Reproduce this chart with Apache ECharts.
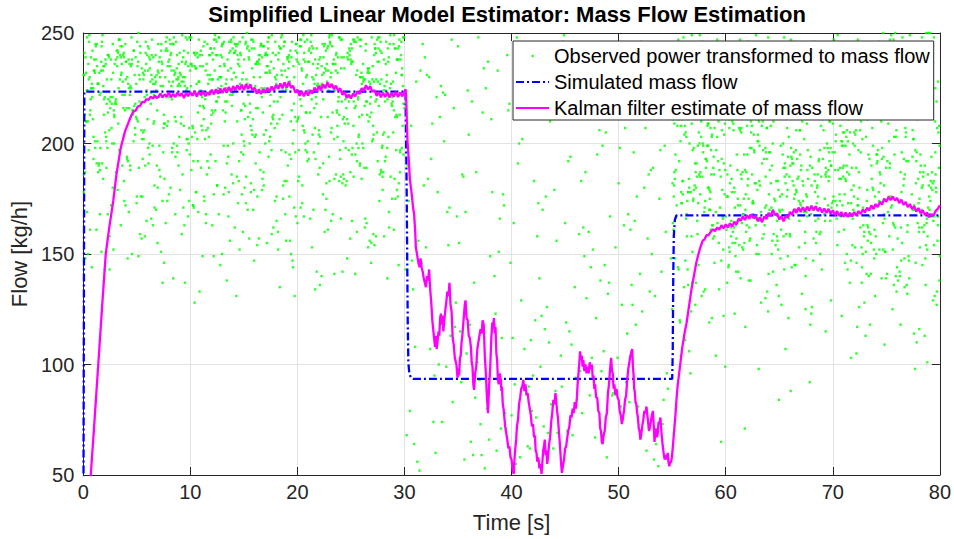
<!DOCTYPE html>
<html><head><meta charset="utf-8">
<script src="https://cdn.jsdelivr.net/npm/echarts@6/dist/echarts.min.js"></script>
<style>html,body{margin:0;padding:0;background:#fff}#c{width:954px;height:539px}</style>
</head><body><div id="c"></div>
<script>
const chartTitle = 'Simplified Linear Model Estimator: Mass Flow Estimation';
const xAxisName = 'Time [s]';
const yAxisName = 'Flow [kg/h]';
const seriesNames = ['Observed power transformed to mass flow', 'Simulated mass flow', 'Kalman filter estimate of mass flow'];
const xRange = [0, 80, 10];
const yRange = [50, 250, 50];

// Observed samples (visible ones). Each block: start time, sampling step [s],
// and the stride with which the typed values are interleaved into the sample slots.
const obs1Start = 0.03, obs1Step = 0.03, obs1Stride = 387;
const obs1 = [
231,207,244,218,196,238,225,249,212,183,236,221,242,203,229,247,190,233,215,241,226,174,239,208,246,
220,235,199,243,227,211,248,186,232,217,240,204,237,224,152,245,213,230,195,242,219,234,206,248,228,
178,239,216,244,201,232,223,249,191,236,210,241,226,168,245,214,237,198,230,243,221,185,247,209,234,
225,240,193,229,246,217,205,238,222,250,146,233,212,244,227,157,239,219,231,202,248,215,236,188,242,
224,207,245,230,196,238,220,249,213,176,235,227,241,200,232,246,218,139,237,223,210,243,229,165,240,
216,233,248,204,227,239,192,221,245,212,236,183,230,247,219,206,241,225,172,234,244,211,228,198,238,
222,246,209,231,240,187,217,243,226,203,237,249,214,158,232,220,245,196,229,238,208,241,224,162,235,
218,247,201,233,226,242,190,215,239,228,207,244,221,175,236,230,248,212,197,240,223,233,185,246,210,
229,241,219,204,237,248,193,225,232,213,245,131,227,239,216,200,234,243,222,170,238,211,247,226,205,
240,217,231,188,244,224,209,236,250,214,198,233,227,242,177,219,238,206,245,230,220,191,241,212,235,
226,148,243,229,203,238,218,247,195,232,224,210,240,184,235,221,246,207,229,242,215,166,237,200,244,
223,234,211,249,197,228,239,216,182,243,230,208,236,222,247,155,231,213,240,226,173,245,219,235,204,
238,227,189,242,215,232,248,201,224,237,212,169,245,229,218,240,196,234,221,246,208,231,243,186,227,
214,239,230,205,247,220,236,192,228,243,210,233,225,142,241,217,249,202,235,222,238,159,229,244,213,
233,198,240,226,218,245,207,231,238,187,224,246,215,236,200,242,228,211,181,239,221,248,205,234,226,
241,212,229,194,244,233,219,237,171,225,248,206,230,242,216,199,236,223,245,210,232,184,240,227,219,
247,202,235,221,240,189,228,243,214,231,197,246,225,238,209,160,234,220,249,213,237,229,163,242,218,
230,244,207,226,239,215,248,193,232,222,241,204,236,185,227,245,211,233,219,240,199,231,246,174,224,
236,216,242,228,201,238,224,247,137,230,213,243,221,234,206,249,192,227,239,217,232,245,210,168,236,
221,240,229,197,244,212,235,226,248,186,231,219,241,203,237,225,246,214,232,176,240,222,208,243,229,
238,210,233,245,191,224,241,218,230,247,206,236,222,179,243,228,214,239,200,248,226,233,150,241,215,
229,244,203,236,221,247,195,232,240,212,227,245,183,234,219,238,208,242,225,170,237,231,246,214,222,
200,239,227,248,213,233,189,244,220,236,207,241,229,164,247,218,235,226,198,243,211,238,224,245,192,
234,220,241,206,229,246,217,237,181,232,243,224,210,239,228,248,196,235,215,242,221,144,238,230,209,
244,225,213,240,232,194,247,219,236,227,203,242,216,233,249,187,229,238,211,245,224,200,236,220,241,
217,235,246,198,230,239,222,209,243,228,177,237,214,245,226,233,205,241,219,190,248,231,223,236,212,
240,226,202,244,218,235,229,248,193,238,221,211,246,232,184,239,227,215,242,204,234,247,220,167,237,
228,243,216,231,249,207,236,224,197,241,213,238,230,246,156,225,240,219,233,201,245,227,212,239,222,
235,210,247,226,238,195,230,244,218,236,205,242,223,179,248,214,232,240,227,209,237,221,246,185,231,
243,219,234,203,240,227,248,212,236,191,229,245,222,238,208,233,246,215,176,241,226,237,200,244,230,
213,239,225,247,197,232,240,218,235,206,244,229,221,248,183,237,214,242,227,209,231,246,194,238,224,
246,208,237,229,242,190,226,239,215,233,248,202,240,222,171,236,231,245,212,228,241,198,235,219,247,
227,238,211,244,225,236,186,230,247,216,241,204,233,224,249,149,239,218,232,245,207,226,240,180,234,
220,245,232,199,238,223,246,213,235,228,190,243,217,237,230,206,248,221,242,168,236,229,214,244,225,
239,203,231,247,218,234,241,196,227,245,211,238,224,182,240,233,216,246,228,209,237,220,243,192,230,
246,224,215,240,231,187,243,226,238,209,248,219,235,230,201,244,222,239,213,176,242,234,227,247,205,
232,241,198,229,246,221,236,210,243,225,237,184,231,248,216,239,204,245,228,235,161,240,223,233,212,
238,217,244,230,206,241,227,249,189,234,222,245,213,239,231,202,246,225,236,174,243,218,240,229,210,
226,245,235,212,240,197,232,247,220,237,208,243,229,181,238,224,246,215,233,241,203,236,227,244,192,
241,230,219,246,225,208,239,233,248,186,236,222,243,214,231,245,200,228,240,217,235,178,247,224,221
];
const obs1bStart = 0.05, obs1bStep = 0.15, obs1bStride = 77;
const obs1b = [
178,192,165,201,154,187,171,196,143,182,160,199,175,148,189,168,204,157,185,137,193,172,162,198,151,
183,169,195,141,176,188,158,202,166,180,131,191,174,156,197,163,186,149,179,194,167,153,200,173,184,
146,190,161,177,203,159,181,139,195,170,187,152,198,164,176,144,192,183,157,200,169,188,134,179,196,
162,174,150,193,181,166,205,155,185,172,142,197,160,189,177,147,201,168,182,158,194,175,128,186,163,
199,153,180,171,191,145,184,165,203,161,178,136,190,173,156,196,167,187,150,181,198,159,175,192,140,
183,170,155,200,164,188,177,148,195,162,179,133,191,172,157,202,168,185,151,180,197,166,174,145,189,
160,193,178,154,199,171,184,138,187,163,176,196,149,182,169,204,158,190,173,143,194,165,181,152,198,
176,161,188,147,192,179,167,201,156,185,170,135,195,164,183,150,191,174,159,200,168,186,141,180,197
];
const obs2Start = 30.1, obs2Step = 0.1, obs2Stride = 97;
const obs2 = [
143,218,87,171,62,236,119,195,74,158,246,101,183,56,129,207,92,164,241,78,137,222,110,189,66,
152,230,95,176,59,213,134,248,81,167,104,199,71,145,226,116,186,53,160,239,90,127,204,68,174,
112,244,83,156,197,61,138,221,99,180,73,149,233,107,168,57,192,125,215,86,154,242,64,178,121,
209,76,141,187,97,228,58,163,115,249,89,172,132,201,69,150,237,103,184,79,118,219,94,147,55,
198,128,243,84,166,106,212,72,157,234,98,181,63,136,224,109,190,77,153,247,88,175,123,206,60,
139,227,93,162,52,217,114,185,70,148,240,102,169,82,131,211,67,193,120,235,85,159,108,200,75,
155,246,96,177,58,223,126,188,80,144,231,111,165,65,135,208,91,182,117,238,73,151,199,100,170,
61,214,130,245,87,161,105,194,68,146,229,113,179,54,140,220,95,173,124,248,78,156,202,92,186,
119,236,71,167,99,210,57,149,232,107,183,81,137,218,64,191,127,244,90,160,112,205,74,176,133,
225,86,153,62,196,118,241,79,164,103,216,69,142,233,97,178,122,207,59,187,146,230,83,169,115
];
const obs3Start = 55.03, obs3Step = 0.03, obs3Stride = 311;
const obs3 = [
182,156,207,171,233,148,195,166,219,177,140,203,188,162,245,174,129,198,213,159,184,226,151,192,170,
208,137,179,196,163,229,185,154,201,172,96,190,238,167,211,145,182,199,158,176,221,134,193,160,205,
173,248,189,152,216,165,197,181,143,224,169,187,204,126,177,195,161,232,183,150,209,171,192,139,214,
164,200,180,241,155,186,218,172,133,196,160,227,190,147,206,176,165,185,113,199,231,157,182,210,168,
191,144,222,175,203,161,187,250,150,197,178,88,212,166,193,181,236,153,174,207,141,188,220,162,198,
179,213,158,194,169,230,146,184,201,119,176,217,163,189,243,155,205,172,136,195,180,225,149,186,167,
211,142,199,174,160,234,188,154,207,170,193,131,219,178,162,247,183,196,151,173,215,138,190,165,226,
157,202,181,145,195,176,238,164,210,187,124,198,171,152,223,185,166,204,143,179,192,232,159,175,208,
189,135,216,168,197,155,182,244,173,201,148,186,163,228,194,71,177,212,158,191,170,236,147,205,184,
161,218,179,193,140,207,175,249,156,188,167,211,132,196,180,224,154,172,203,145,185,239,162,198,174,
210,150,191,177,229,137,200,166,183,215,158,194,176,122,206,187,163,242,178,149,219,171,197,153,186,
168,204,143,181,226,160,192,175,213,104,199,182,157,233,170,188,146,208,165,195,179,221,139,184,201,
176,159,235,189,148,203,172,217,163,196,118,185,210,155,178,246,167,193,141,205,174,227,158,190,183,
197,171,127,214,162,186,240,152,199,180,209,144,175,191,231,160,182,206,136,194,169,222,150,187,173,
154,208,185,166,245,173,196,138,211,178,161,224,189,147,202,170,184,237,156,192,175,92,216,164,199,
181,230,152,193,177,205,142,188,167,219,159,200,183,248,171,196,131,207,174,186,153,226,165,190,180,
212,163,187,145,234,176,198,158,181,214,137,193,172,204,168,243,150,189,178,121,209,185,160,195,174,
166,220,191,151,203,180,239,162,186,173,127,210,194,157,228,177,199,144,183,215,170,190,249,153,201,
187,175,148,218,169,192,232,160,205,182,141,196,174,222,155,188,210,133,179,200,165,236,184,171,194,
159,213,180,197,140,225,172,186,165,206,151,191,244,177,198,163,217,146,184,203,176,65,208,190,168,
200,147,189,238,164,181,211,156,195,173,229,139,186,170,202,160,183,247,152,197,178,118,214,187,172,
184,223,161,192,176,136,207,168,189,240,155,199,181,212,149,174,196,231,163,185,206,142,178,219,167,
193,158,216,179,203,144,188,171,235,162,197,183,125,209,175,190,154,227,180,166,201,147,185,242,173,
170,205,182,151,220,186,164,198,137,211,177,193,158,246,172,187,203,143,179,215,161,194,232,168,189,
148,213,176,199,167,230,154,184,208,171,190,133,218,181,163,201,186,239,156,177,195,140,210,173,187,
222,160,191,178,206,145,183,250,169,196,174,212,152,188,165,227,179,117,200,185,158,193,236,170,204,
181,166,214,139,192,176,224,157,205,183,170,198,146,186,243,163,190,211,84,178,197,168,229,152,185,
195,174,131,208,188,160,233,177,199,150,184,216,169,193,142,204,180,248,162,187,173,221,155,196,179,
163,217,185,170,240,153,196,181,128,210,175,191,164,226,186,148,201,172,234,159,189,206,143,180,197,
176,203,159,189,219,166,184,138,212,177,195,245,161,183,170,208,150,192,231,174,186,123,215,168,199,
188,154,225,180,197,163,206,174,149,190,237,169,202,184,157,214,178,141,195,228,172,187,160,209,182,
171,230,165,193,144,207,185,176,219,153,198,181,247,167,189,136,204,175,222,158,191,179,212,162,196,
205,168,186,238,155,192,173,210,147,183,200,164,226,178,98,195,187,216,170,152,203,181,241,175,190,
167,213,158,199,184,226,172,189
];
const obs3bStart = 55.08, obs3bStep = 0.125, obs3bStride = 77;
const obs3b = [
231,214,246,207,238,221,249,126,212,235,118,243,226,209,240,217,104,233,248,211,229,137,244,220,236,
208,241,131,225,247,213,232,98,219,239,206,245,228,122,215,234,250,210,237,113,223,242,216,230,135,
247,205,238,222,109,244,227,212,236,128,249,218,231,207,241,120,226,233,214,245,101,239,221,210,235,
132,243,224,208,248,216,237,115,229,240,211,246,125,219,232,206,242,107,227,238,213,250,130,222,234,
209,244,117,230,236,215,247,99,225,241,207,233,134,218,245,223,239,111,212,249,228,210,237,124,243,
220,231,206,246,103,235,214,240,226,129,248,217,238,209,243,114,229,234,221,247,136,211,242,225,208,
236,119,245,213,239,230,106,227,250,216,233,127,241,219,207,244,110,232,237,224,246,133,214,240,228,
210,238,121,243,222,235,105,249,217,231,209,245,138,226,236,212,241,116,220,247,229,206,234,123,239
];

// Simulated mass flow [t, value]
const simulated = [
[0,0],[0.1,223.5],[30.1,223.5],[30.2,180],[30.3,120],[30.36,101],[30.45,96],[30.6,94],[30.8,93.5],
[55.0,93.5],[55.05,105],[55.1,140],[55.15,158],[55.25,165.5],[55.4,167.5],[80,167.5]
];

// Kalman filter estimate [t, value]
const kalman = [
[0.5,36],[0.7,50],[1.0,71],[1.4,100],[1.8,129],[2.1,150],[2.4,161],[2.8,174],[3.1,186],[3.5,198],[3.9,205.5],
[4.3,210.5],[4.5,212.8],[4.7,214.6],[4.9,214.9],[5.1,216.8],[5.3,217.0],[5.5,218.8],[5.7,218.6],[5.9,220.1],[6.1,219.7],
[6.3,221.2],[6.5,220.4],[6.7,221.6],[6.85,220.6],
[7.0,221.0],[7.2,222.6],[7.4,220.8],[7.6,222.2],[7.8,221.3],[8.0,223.0],[8.2,220.9],[8.4,222.4],[8.6,221.0],[8.8,223.1],
[9.0,221.5],[9.2,222.7],[9.4,220.6],[9.6,222.9],[9.8,221.4],[10.0,223.2],[10.2,221.6],[10.4,223.8],[10.6,221.2],[10.8,223.4],
[11.0,221.9],[11.2,223.6],[11.4,221.4],[11.6,223.1],[11.8,222.0],[12.0,224.3],[12.2,222.2],[12.4,224.6],[12.6,222.5],[12.8,224.9],
[13.0,222.8],[13.2,225.1],[13.4,223.0],[13.6,225.6],[13.8,223.4],[14.0,226.0],[14.2,224.1],[14.4,226.4],[14.6,224.3],[14.8,226.6],
[15.0,224.2],[15.2,226.9],[15.4,224.6],[15.6,226.8],[15.8,224.0],[16.0,225.3],[16.2,222.6],[16.4,224.5],[16.6,222.4],[16.8,224.6],
[17.0,222.9],[17.2,225.2],[17.4,223.4],[17.6,225.8],[17.8,223.9],[18.0,226.5],[18.2,224.8],[18.4,227.2],[18.6,225.0],[18.8,227.6],
[19.0,225.3],[19.2,228.0],[19.4,225.2],[19.6,226.1],[19.8,223.0],[20.0,224.4],[20.2,221.6],[20.4,223.6],[20.6,221.3],[20.8,223.8],
[21.0,221.7],[21.2,224.0],[21.4,222.6],[21.6,225.3],[21.8,223.4],[22.0,226.1],[22.2,224.0],[22.4,226.8],[22.6,225.0],[22.8,227.6],
[23.0,225.3],[23.2,227.0],[23.4,224.6],[23.6,226.2],[23.8,223.7],[24.0,225.0],[24.2,222.0],[24.4,223.4],[24.6,220.6],[24.8,222.2],
[25.0,220.4],[25.2,222.6],[25.4,221.3],[25.6,223.7],[25.8,222.3],[26.0,225.0],[26.2,223.6],[26.4,226.4],[26.6,224.4],[26.8,226.0],
[27.0,223.4],[27.2,224.2],[27.4,221.5],[27.6,223.3],[27.8,220.9],[28.0,223.0],[28.2,221.0],[28.4,223.2],[28.6,220.8],[28.8,222.9],
[29.0,221.2],[29.2,223.4],[29.4,221.0],[29.6,223.1],[29.8,221.3],[30.0,223.6],[30.1,224.5],
[30.15,222],[30.2,214],[30.25,205],[30.3,199],[30.4,193],[30.5,184],[30.6,180],[30.7,176],[30.8,171],[30.9,168],[31.0,160],
[31.06,153],[31.13,151],[31.2,149],[31.3,146],[31.4,144],[31.5,148],[31.6,144],[31.7,142],[31.8,139],[31.9,137],[32.0,135],
[32.1,140],[32.2,138],[32.3,143],[32.4,134],[32.5,128],[32.6,120],[32.7,115],[32.76,112],[32.85,108],[32.93,113],[33.0,107],
[33.1,111],[33.18,115],[33.25,113],[33.33,121],[33.4,123],[33.48,118],[33.55,122],[33.63,115],[33.7,119],[33.8,124],[33.9,128],
[34.0,133],[34.1,131],[34.2,137],[34.3,127],[34.4,124],[34.5,112],[34.6,109],[34.7,103],[34.85,100],[34.95,94],[35.05,98],
[35.1,95],[35.18,103],[35.25,104],[35.33,110],[35.4,113],[35.48,118],[35.55,122],[35.63,127],[35.7,129],[35.8,121],[35.9,120],
[36.0,113],[36.1,112],[36.2,108],[36.28,101],[36.35,99],[36.43,91],[36.5,88.5],[36.6,96],[36.7,99],[36.8,107],[36.9,110],
[37.0,113],[37.1,116],[37.2,114],[37.3,120],[37.4,118],[37.5,104],[37.6,96],[37.7,85],[37.8,78],[37.9,90],[38.0,98],
[38.1,111],[38.2,119],[38.28,116],[38.35,121],[38.43,114],[38.5,117],[38.58,105],[38.65,102],[38.73,93],[38.8,91],[38.9,96],
[39.0,93],[39.05,88],[39.1,90],[39.18,82],[39.25,80],[39.33,76],[39.4,72],[39.5,69],[39.6,66],[39.7,62],[39.8,63],
[39.9,58],[40.0,57],[40.1,52],[40.2,50.5],[40.28,58],[40.35,62],[40.43,66],[40.5,72],[40.6,75],[40.7,82],[40.8,85],
[40.9,89],[41.0,90],[41.1,93],[41.2,88],[41.3,91],[41.4,86],[41.5,87],[41.6,83],[41.7,80],[41.8,77],[41.9,72],
[42.0,73],[42.1,67],[42.18,68],[42.25,61],[42.33,60],[42.4,56],[42.5,58],[42.6,53],[42.7,55],[42.8,50.5],[42.88,56],
[42.95,61],[43.03,63],[43.1,66],[43.18,59],[43.25,61],[43.33,55],[43.4,58],[43.5,64],[43.6,67],[43.7,74],[43.8,78],
[43.9,84],[44.0,82],[44.1,87],[44.18,83],[44.25,79],[44.33,76],[44.4,71],[44.48,66],[44.55,61],[44.63,55],[44.7,51],
[44.8,54],[44.9,57],[45.0,62],[45.1,63],[45.2,67],[45.3,70],[45.4,72],[45.5,77],[45.6,76],[45.7,80],[45.8,78],
[45.9,83],[46.0,80],[46.1,85],[46.18,92],[46.25,96],[46.33,101],[46.4,106],[46.48,102],[46.55,104],[46.63,99],[46.7,102],
[46.8,97],[46.9,100],[47.0,96],[47.1,99],[47.2,96],[47.3,101],[47.4,98],[47.5,100],[47.58,94],[47.65,95],[47.73,89],
[47.8,91],[47.9,85],[48.0,85],[48.1,79],[48.2,78],[48.28,71],[48.35,70],[48.43,65],[48.5,64],[48.6,68],[48.7,70],
[48.8,76],[48.9,78],[49.0,87],[49.1,91],[49.2,98],[49.3,103],[49.38,97],[49.45,96],[49.53,89],[49.6,91],[49.7,86],
[49.8,89],[49.9,85],[50.0,84],[50.1,79],[50.2,77],[50.3,73],[50.4,76],[50.5,79],[50.6,84],[50.7,86],[50.8,93],
[50.9,98],[51.0,101],[51.1,104],[51.2,106],[51.27,107],[51.33,99],[51.4,95],[51.45,89],[51.5,88],[51.58,83],[51.65,82],
[51.73,78],[51.8,76],[51.88,71],[51.95,70],[52.03,66],[52.1,68],[52.2,72],[52.3,75],[52.4,79],[52.5,78],[52.6,81],
[52.68,77],[52.75,74],[52.83,70],[52.9,71],[53.0,74],[53.1,77],[53.2,79],[53.28,72],[53.35,65],[53.43,70],[53.5,71],
[53.58,67],[53.65,69],[53.73,74],[53.8,73],[53.9,76],[54.0,69],[54.1,64],[54.2,60],[54.3,57],[54.4,59],[54.5,57],
[54.58,60],[54.65,56],[54.73,54],[54.8,55.5],[54.9,56],[54.97,58],[55.05,62],[55.1,65],[55.2,71],[55.3,77],[55.4,84],
[55.5,90],[55.65,96],[55.8,102],[55.95,108],[56.15,114],[56.35,119],[56.5,124],[56.65,129],[56.8,134],[56.95,138],[57.1,142],
[57.25,146],[57.4,149],[57.6,152.5],[57.85,156],[58.0,156.5],[58.2,158.5],[58.4,158.5],
[58.6,160],[58.8,161.2],[59.0,160.3],[59.2,162.0],[59.4,161.0],[59.6,163.0],[59.8,161.6],[60.0,163.4],[60.2,162.0],[60.4,163.9],
[60.6,162.4],[60.8,164.6],[61.0,163.3],[61.2,166.0],[61.4,165.0],[61.6,167.0],[61.8,165.4],[62.0,167.5],[62.2,166.0],[62.4,168.0],
[62.6,166.2],[62.8,167.4],[63.0,164.8],[63.2,166.6],[63.4,164.4],[63.6,167.0],[63.8,165.8],[64.0,168.6],[64.2,167.2],[64.4,170.0],
[64.6,167.6],[64.8,168.4],[65.0,165.6],[65.2,167.0],[65.4,164.8],[65.6,167.2],[65.8,166.4],[66.0,169.0],[66.2,167.8],[66.4,170.4],
[66.6,168.6],[66.8,171.0],[67.0,169.0],[67.2,171.2],[67.4,169.2],[67.6,171.4],[67.8,169.6],[68.0,171.8],[68.2,169.8],[68.4,171.6],
[68.6,169.4],[68.8,171.0],[69.0,168.8],[69.2,170.6],[69.4,168.6],[69.6,170.4],[69.8,168.2],[70.0,169.8],[70.2,167.6],[70.4,169.4],
[70.6,167.2],[70.8,169.0],[71.0,166.8],[71.2,168.8],[71.4,166.8],[71.6,168.6],[71.8,167.0],[72.0,169.0],[72.2,167.4],[72.4,169.4],
[72.6,168.0],[72.8,170.2],[73.0,168.8],[73.2,171.0],[73.4,169.6],[73.6,172.0],[73.8,170.4],[74.0,172.6],[74.2,171.2],[74.4,173.6],
[74.6,172.4],[74.8,175.0],[75.0,173.6],[75.2,175.8],[75.4,174.4],[75.6,176.0],[75.8,174.2],[76.0,175.4],[76.2,173.0],[76.4,174.6],
[76.6,172.2],[76.8,173.6],[77.0,171.2],[77.2,172.6],[77.4,170.4],[77.6,171.6],[77.8,169.2],[78.0,170.8],[78.2,168.4],[78.4,169.8],
[78.6,167.6],[78.8,168.8],[79.0,166.6],[79.2,168.0],[79.4,167.4],[79.6,169.4],[79.8,170.4],[80.0,172.0]
];

// place the k-th typed value into sample slot (k*stride mod N) of its block
function toPairs(start, step, stride, vals) {
  const n = vals.length;
  return vals.map((v, k) => {
    const slot = (k * stride) % n;
    return [+(start + slot * step).toFixed(3), v];
  });
}
const observed = [].concat(
  toPairs(obs1Start, obs1Step, obs1Stride, obs1),
  toPairs(obs1bStart, obs1bStep, obs1bStride, obs1b),
  toPairs(obs2Start, obs2Step, obs2Stride, obs2),
  toPairs(obs3Start, obs3Step, obs3Stride, obs3),
  toPairs(obs3bStart, obs3bStep, obs3bStride, obs3b)
);

const FONT = '"Liberation Sans", Arial, Helvetica, sans-serif';
const AX = '#262626';
const chart = echarts.init(document.getElementById('c'), null, {renderer: 'svg'});
const baseAxis = {
  type: 'value',
  axisLine: {show: true, onZero: false, lineStyle: {color: AX, width: 1}},
  axisTick: {show: true, inside: true, length: 8, lineStyle: {color: AX}},
  splitLine: {show: false},
  axisLabel: {show: false}
};
chart.setOption({
  animation: false,
  backgroundColor: '#ffffff',
  title: {
    text: chartTitle, left: 507, top: 3, textAlign: 'center', padding: 0,
    textStyle: {fontFamily: FONT, fontSize: 22, fontWeight: 'bold', color: '#000'}
  },
  grid: {left: 79, right: 14, top: 33, bottom: 64, containLabel: false},
  legend: {
    orient: 'vertical', left: 513, top: 41,
    padding: [5, 4, 2, 2], itemGap: 6, itemWidth: 33, itemHeight: 14,
    backgroundColor: '#ffffff', borderColor: AX, borderWidth: 1, borderRadius: 0,
    textStyle: {fontFamily: FONT, fontSize: 20, color: '#000'},
    data: [
      {name: seriesNames[0], icon: 'path://M0 0M33 0M33 14M0 14M15.5 5.8h2.4v2.4h-2.4z', itemStyle: {color: '#00ff00'}},
      {name: seriesNames[1], itemStyle: {opacity: 0}},
      {name: seriesNames[2], itemStyle: {opacity: 0}}
    ]
  },
  xAxis: [
    Object.assign({}, baseAxis, {
      min: xRange[0], max: xRange[1], interval: xRange[2], position: 'bottom',
      name: xAxisName, nameLocation: 'middle', nameGap: 36,
      nameTextStyle: {fontFamily: FONT, fontSize: 22, color: AX},
      axisLabel: {show: true, margin: 7, fontFamily: FONT, fontSize: 20, color: AX},
      splitLine: {show: true, lineStyle: {color: '#e3e3e3', width: 1}}
    }),
    Object.assign({}, baseAxis, {min: xRange[0], max: xRange[1], interval: xRange[2], position: 'top'})
  ],
  yAxis: [
    Object.assign({}, baseAxis, {
      min: yRange[0], max: yRange[1], interval: yRange[2], position: 'left',
      name: yAxisName, nameLocation: 'middle', nameGap: 46,
      nameTextStyle: {fontFamily: FONT, fontSize: 22, color: AX},
      axisLabel: {show: true, margin: 9, fontFamily: FONT, fontSize: 20, color: AX},
      splitLine: {show: true, lineStyle: {color: '#e3e3e3', width: 1}}
    }),
    Object.assign({}, baseAxis, {min: yRange[0], max: yRange[1], interval: yRange[2], position: 'right'})
  ],
  series: [
    {
      name: seriesNames[0], type: 'scatter', data: observed,
      symbol: 'rect', symbolSize: 2.4, itemStyle: {color: '#00ff00'},
      clip: true, silent: true, z: 2
    },
    {
      name: seriesNames[1], type: 'line', data: simulated, symbol: 'none', showSymbol: false,
      lineStyle: {color: '#0000ff', width: 2.3, type: [8, 3, 2, 3]}, itemStyle: {color: '#0000ff'},
      clip: true, silent: true, z: 3
    },
    {
      name: seriesNames[2], type: 'line', data: kalman, symbol: 'none', showSymbol: false,
      lineStyle: {color: '#ff00ff', width: 2.3}, itemStyle: {color: '#ff00ff'},
      clip: true, silent: true, z: 4
    }
  ]
});
</script></body></html>
